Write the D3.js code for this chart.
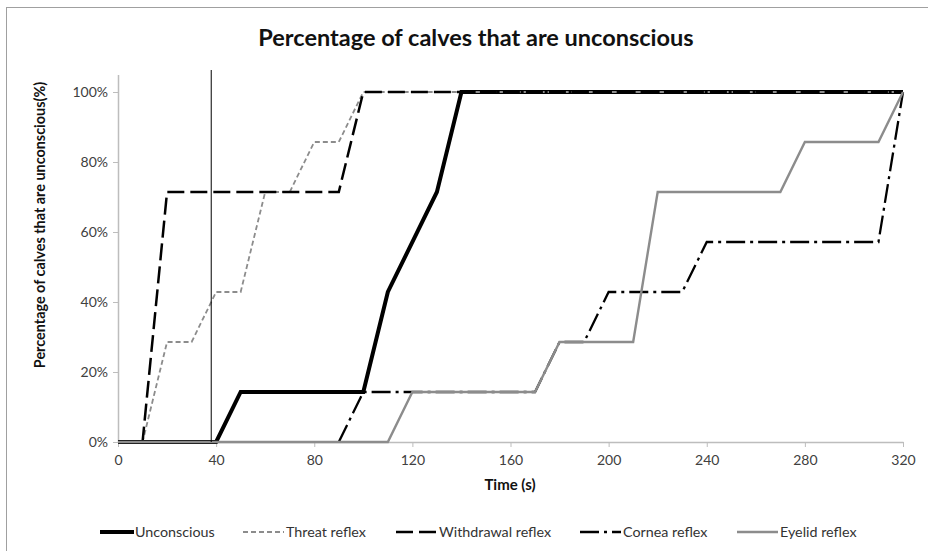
<!DOCTYPE html>
<html>
<head>
<meta charset="utf-8">
<script src="https://cdn.jsdelivr.net/npm/d3@7/dist/d3.min.js"></script>
<style>
  html, body { margin: 0; padding: 0; background: #fff; }
  svg { display: block; font-family: Lato, "Open Sans", sans-serif; }
</style>
</head>
<body>
<svg id="chart" width="928" height="551"></svg>
<script>
// ---- data ----
const title = "Percentage of calves that are unconscious";
const yLabel = "Percentage of calves that are unconscious(%)";
const xLabel = "Time (s)";
const xTicks = [0, 40, 80, 120, 160, 200, 240, 280, 320];
const yTicks = [0, 20, 40, 60, 80, 100];
const markerTime = [38];

const seriesNames = ["Unconscious", "Threat reflex", "Withdrawal reflex", "Cornea reflex", "Eyelid reflex"];

const unconsciousT = [0, 40, 50, 100, 110, 130, 140, 320];
const unconsciousV = [0, 0, 14.29, 14.29, 42.86, 71.43, 100, 100];

const threatT = [0, 10, 20, 30, 40, 50, 60, 70, 80, 90, 100, 320];
const threatV = [0, 0, 28.57, 28.57, 42.86, 42.86, 71.43, 71.43, 85.71, 85.71, 100, 100];

const withdrawalT = [0, 10, 20, 90, 100, 320];
const withdrawalV = [0, 0, 71.43, 71.43, 100, 100];

const corneaT = [90, 100, 170, 180, 190, 200, 230, 240, 310, 320];
const corneaV = [0, 14.29, 14.29, 28.57, 28.57, 42.86, 42.86, 57.14, 57.14, 100];

const eyelidT = [0, 110, 120, 170, 180, 210, 220, 270, 280, 310, 320];
const eyelidV = [0, 0, 14.29, 14.29, 28.57, 28.57, 71.43, 71.43, 85.71, 85.71, 100];

const seriesT = [unconsciousT, threatT, withdrawalT, corneaT, eyelidT];
const seriesV = [unconsciousV, threatV, withdrawalV, corneaV, eyelidV];

// ---- styles ----
const styles = [
  { color: "#000000", width: 4,   dash: null },
  { color: "#8c8c8c", width: 1.8, dash: "5,3" },
  { color: "#000000", width: 2.5, dash: "17,6" },
  { color: "#000000", width: 2.3, dash: "19,5,3,5" },
  { color: "#8c8c8c", width: 2.4, dash: null }
];

const svg = d3.select("#chart");

// frame
svg.append("rect").attr("x", 6.5).attr("y", 7.5).attr("width", 940).attr("height", 560)
  .attr("fill", "none").attr("stroke", "#a0a0a0").attr("stroke-width", 1);

const x = d3.scaleLinear().domain([0, 320]).range([118, 903]);
const y = d3.scaleLinear().domain([0, 105]).range([442, 74.5]);

// axes
const xAxis = svg.append("g").attr("transform", `translate(0,${y(0)})`)
  .call(d3.axisBottom(x).tickValues(xTicks).tickSize(5).tickPadding(8).tickSizeOuter(0));
const yAxis = svg.append("g").attr("transform", `translate(${x(0)},0)`)
  .call(d3.axisLeft(y).tickValues(yTicks).tickSize(5).tickPadding(5).tickSizeOuter(0)
    .tickFormat(d => d + "%"));
[xAxis, yAxis].forEach(g => {
  g.select(".domain").attr("stroke", "#bdbdbd").attr("stroke-width", 1.5);
  g.selectAll(".tick line").attr("stroke", "#bdbdbd");
  g.selectAll(".tick text").attr("fill", "#404040").style("font-size", "14px")
    .style("font-family", "Lato, sans-serif");
});

// series lines
const line = d3.line().x(d => x(d[0])).y(d => y(d[1]));
seriesNames.forEach((name, i) => {
  const pts = seriesT[i].map((t, j) => [t, seriesV[i][j]]);
  svg.append("path").datum(pts).attr("d", line)
    .attr("fill", "none").attr("stroke", styles[i].color)
    .attr("stroke-width", styles[i].width)
    .attr("stroke-dasharray", styles[i].dash)
    .attr("stroke-linejoin", "miter");
});

// marker vertical line
svg.append("line").attr("x1", x(markerTime[0])).attr("x2", x(markerTime[0]))
  .attr("y1", 70).attr("y2", y(0)).attr("stroke", "#000").attr("stroke-width", 1);

// title
svg.append("text").attr("x", 476).attr("y", 46).attr("text-anchor", "middle")
  .style("font-size", "23.5px").style("font-weight", "bold").attr("fill", "#111").text(title);

// y label
svg.append("text").attr("transform", "translate(45,225) rotate(-90)").attr("text-anchor", "middle")
  .style("font-size", "14.4px").style("font-weight", "bold").attr("fill", "#111").text(yLabel);

// x label
svg.append("text").attr("x", 510).attr("y", 490).attr("text-anchor", "middle")
  .style("font-size", "15px").style("font-weight", "bold").attr("fill", "#111").text(xLabel);

// legend
const legendX = [100, 243, 396, 580, 737];
const legendY = 532;
seriesNames.forEach((name, i) => {
  const g = svg.append("g").attr("transform", `translate(${legendX[i]},${legendY})`);
  g.append("line").attr("x1", 0).attr("x2", 34 + (i === 0 ? 0 : 7)).attr("y1", 0).attr("y2", 0)
    .attr("stroke", styles[i].color).attr("stroke-width", styles[i].width)
    .attr("stroke-dasharray", styles[i].dash);
  g.append("text").attr("x", (i === 0 ? 35 : 43)).attr("y", 5)
    .style("font-size", "14.3px").attr("fill", "#333").text(name);
});
</script>
</body>
</html>
